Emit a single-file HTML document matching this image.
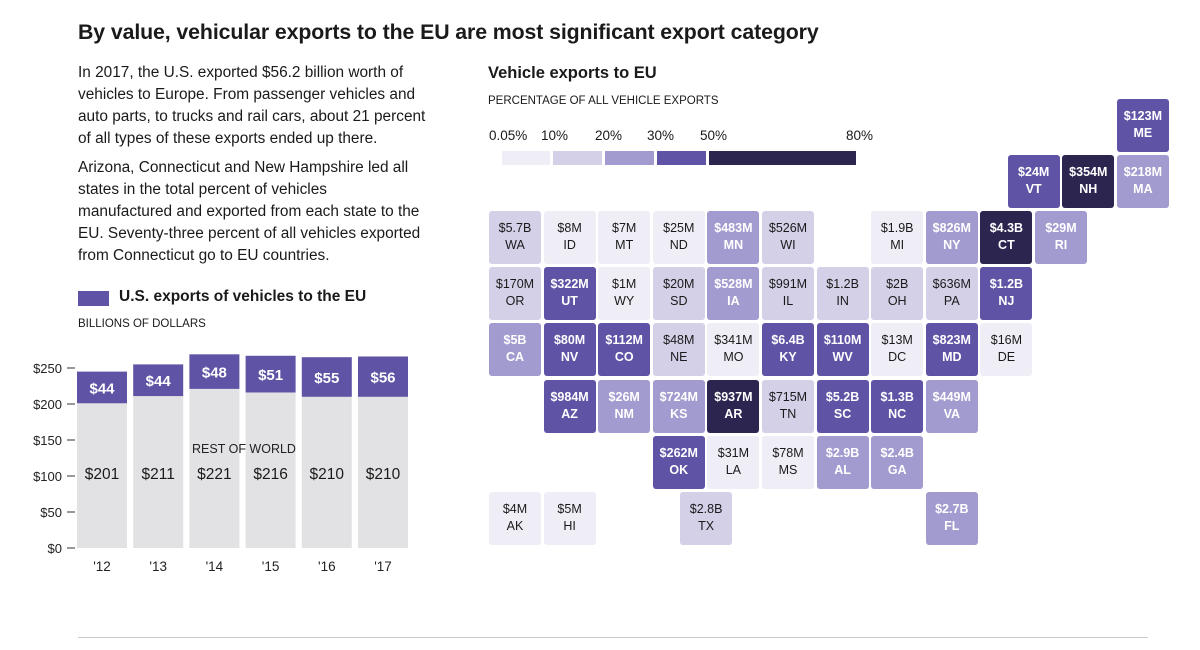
<!DOCTYPE html>
<html><head><meta charset="utf-8"><style>
body{margin:0;width:1200px;height:650px;background:#fff;font-family:"Liberation Sans",sans-serif;color:#1a1a1a;position:relative;overflow:hidden}
.abs{position:absolute}
h1{position:absolute;left:78px;top:20px;margin:0;font-size:21.3px;font-weight:bold;letter-spacing:-0.1px;white-space:nowrap}
.p{position:absolute;left:78px;width:420px;font-size:15.4px;line-height:22px;margin:0;white-space:nowrap}
.tile{position:absolute;width:52px;height:53px;border-radius:3px;text-align:center;font-size:12.5px;line-height:17px;box-sizing:border-box;padding-top:9px}
.dk{color:#fff;font-weight:bold}
</style></head><body>
<h1>By value, vehicular exports to the EU are most significant export category</h1>
<p class="p" style="top:62px">In 2017, the U.S. exported $56.2 billion worth of<br>vehicles to Europe. From passenger vehicles and<br>auto parts, to trucks and rail cars, about 21 percent<br>of all types of these exports ended up there.</p>
<p class="p" style="top:157px">Arizona, Connecticut and New Hampshire led all<br>states in the total percent of vehicles<br>manufactured and exported from each state to the<br>EU. Seventy-three percent of all vehicles exported<br>from Connecticut go to EU countries.</p>

<div class="abs" style="left:78px;top:291px;width:31px;height:15px;background:#5e53a5"></div>
<div class="abs" style="left:119px;top:288px;font-size:15.5px;font-weight:bold">U.S. exports of vehicles to the EU</div>
<div class="abs" style="left:78px;top:318px;font-size:11.5px">BILLIONS OF DOLLARS</div>
<svg class="abs" style="left:0;top:0" width="460" height="600" id="bars"></svg>

<div class="abs" style="left:488px;top:64px;font-size:16.5px;font-weight:bold">Vehicle exports to EU</div>
<div class="abs" style="left:488px;top:95px;font-size:11.5px">PERCENTAGE OF ALL VEHICLE EXPORTS</div>
<div id="legend"></div>
<div id="map"></div>
<div class="abs" style="left:78px;top:637px;width:1070px;height:1px;background:#ccc"></div>

<script>
const years=["'12","'13","'14","'15","'16","'17"];
const euValues=[44,44,48,51,55,56];
const restValues=[201,211,221,216,210,210];
const yTicks=[0,50,100,150,200,250];
const ns="http://www.w3.org/2000/svg";
const svg=document.getElementById('bars');
const y0=548,k=180/250;
const yS=v=>y0-v*k;
const xS=i=>77+i*56.2;
function mk(t,a,txt){const e=document.createElementNS(ns,t);for(const n in a)e.setAttribute(n,a[n]);if(txt!==undefined)e.textContent=txt;svg.appendChild(e);return e;}
yTicks.forEach(t=>{
 const l=mk('text',{x:62,y:yS(t)+5,'text-anchor':'end','font-size':13,fill:'#222'},'$'+t);
 
 
 const tk=mk('line',{x1:67,x2:75,y1:yS(t),y2:yS(t),stroke:'#333','stroke-width':1});
 
 
});
years.forEach((yr,i)=>{
 const x=xS(i),r=restValues[i],e=euValues[i];
 const rb=mk('rect',{x:x,y:yS(r),width:50,height:y0-yS(r),fill:'#e2e2e4'});
 
 
 const eb=mk('rect',{x:x,y:yS(r+e),width:50,height:yS(r)-yS(r+e),fill:'#5e53a5'});
 
 
 const et=mk('text',{x:x+25,y:(yS(r)+yS(r+e))/2+6,'text-anchor':'middle','font-size':15,'font-weight':'bold',fill:'#fff'},'$'+e);
 
 
 const rt=mk('text',{x:x+25,y:479,'text-anchor':'middle','font-size':15.5,fill:'#1a1a1a'},'$'+r);
 
 
 const xt=mk('text',{x:x+25,y:571,'text-anchor':'middle','font-size':13.5,fill:'#222'},yr);
 
 
});
const rw=mk('text',{x:244,y:453,'text-anchor':'middle','font-size':12.5,fill:'#222'},'REST OF WORLD');



const colors=['#efeef6','#d3d0e8','#a29bcf','#5e53a5','#2c2550'];
const legendLabels=['0.05%','10%','20%','30%','50%','80%'];
const legendBounds=[[502,550],[553,602],[605,654],[657,706],[709,856]];
const lg=document.getElementById('legend');
const labelX=[489,541,595,647,700,846];
legendLabels.forEach((t,i)=>{const d=document.createElement('div');d.className='abs';d.style.cssText=`left:${labelX[i]}px;top:128px;font-size:13.5px`;d.textContent=t;
 
 
 lg.appendChild(d);});
legendBounds.forEach((b,i)=>{const d=document.createElement('div');d.className='abs';d.style.cssText=`left:${b[0]}px;top:151px;width:${b[1]-b[0]}px;height:14px;background:${colors[i]}`;
 
 
 lg.appendChild(d);});

const states=[
["ME","$123M",11.5,-2,3],["VT","$24M",9.5,-1,3],["NH","$354M",10.5,-1,4],["MA","$218M",11.5,-1,2],
["WA","$5.7B",0,0,1],["ID","$8M",1,0,0],["MT","$7M",2,0,0],["ND","$25M",3,0,0],["MN","$483M",4,0,2],["WI","$526M",5,0,1],["MI","$1.9B",7,0,0],["NY","$826M",8,0,2],["CT","$4.3B",9,0,4],["RI","$29M",10,0,2],
["OR","$170M",0,1,1],["UT","$322M",1,1,3],["WY","$1M",2,1,0],["SD","$20M",3,1,1],["IA","$528M",4,1,2],["IL","$991M",5,1,1],["IN","$1.2B",6,1,1],["OH","$2B",7,1,1],["PA","$636M",8,1,1],["NJ","$1.2B",9,1,3],
["CA","$5B",0,2,2],["NV","$80M",1,2,3],["CO","$112M",2,2,3],["NE","$48M",3,2,1],["MO","$341M",4,2,0],["KY","$6.4B",5,2,3],["WV","$110M",6,2,3],["DC","$13M",7,2,0],["MD","$823M",8,2,3],["DE","$16M",9,2,0],
["AZ","$984M",1,3,3],["NM","$26M",2,3,2],["KS","$724M",3,3,2],["AR","$937M",4,3,4],["TN","$715M",5,3,1],["SC","$5.2B",6,3,3],["NC","$1.3B",7,3,3],["VA","$449M",8,3,2],
["OK","$262M",3,4,3],["LA","$31M",4,4,0],["MS","$78M",5,4,0],["AL","$2.9B",6,4,2],["GA","$2.4B",7,4,2],
["AK","$4M",0,5,0],["HI","$5M",1,5,0],["TX","$2.8B",3.5,5,1],["FL","$2.7B",8,5,2]];
const map=document.getElementById('map');
states.forEach(s=>{
 const d=document.createElement('div');d.className='tile'+(s[4]>=2?' dk':'');
 d.style.left=(489+s[2]*54.6)+'px';d.style.top=(211+s[3]*56.2)+'px';d.style.background=colors[s[4]];
 d.innerHTML=s[1]+'<br>'+s[0];
 
 
 map.appendChild(d);
});
</script>
</body></html>
